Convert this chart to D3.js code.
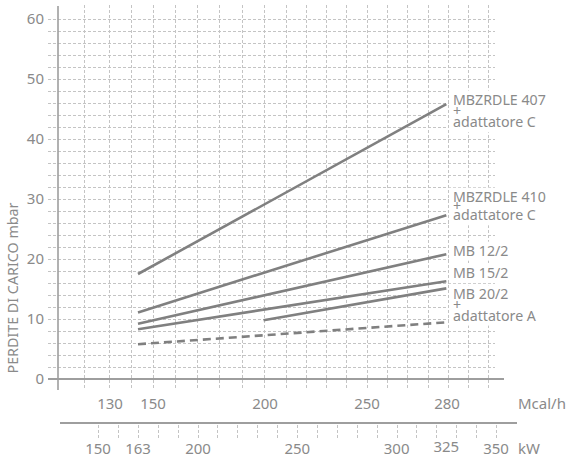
<!DOCTYPE html>
<html><head><meta charset="utf-8">
<script src="https://cdn.jsdelivr.net/npm/d3@7"></script>
<style>
html,body{margin:0;padding:0;background:#fff;}
svg{display:block;}
text{font-family:"Noto Sans",sans-serif;fill:#8a8a8a;}
</style></head>
<body>
<script>
// ---- data ----
const yTicks = [0, 10, 20, 30, 40, 50, 60];
const mcalTicks = [130, 150, 200, 250, 280];
const kwTicks = [150, 163, 200, 250, 300, 325, 350];
const seriesNames = ["MBZRDLE 407 + adattatore C", "MBZRDLE 410 + adattatore C", "MB 12/2", "MB 15/2", "MB 20/2", "MB 20/2 + adattatore A"];
const seriesStartKW = [163, 163, 163, 163, 233, 163];
const seriesEndKW = [325, 325, 325, 325, 325, 325];
const seriesStartMbar = [17.5, 11.1, 9.2, 8.3, 9.8, 5.8];
const seriesEndMbar = [45.8, 27.3, 20.8, 16.3, 15.1, 9.45];
const labelTexts = [
  ["MBZRDLE 407", "+", "adattatore C"],
  ["MBZRDLE 410", "+", "adattatore C"],
  ["MB 12/2"],
  ["MB 15/2"],
  ["MB 20/2", "+", "adattatore A"]
];
const labelAnchorMbar = [45.75, 29.55, 20.55, 16.8, 13.3];
const yTitle = "PERDITE DI CARICO mbar";
const mcalUnit = "Mcal/h";
const kwUnit = "kW";

// ---- layout ----
const W = 572, H = 461;
const svg = d3.select("body").append("svg").attr("width", W).attr("height", H);

const y = d3.scaleLinear().domain([0, 60]).range([379, 19]);
const x = d3.scaleLinear().domain([150, 163, 200, 350]).range([98, 138, 198, 496]);
const kwTickScale = d3.scaleLinear().domain([150, 350]).range([x(150), x(350)]);
const xMcal = d3.scaleLinear().domain([130, 150, 200, 250, 280]).range([110, 153, 265, 367, 447]);
const gridX = d3.scaleLinear().domain([0, 1, 9, 19]).range([84.3, 109, 285.7, 488.3]);

const gridColor = "#c4c4c4";
const axisColor = "#9e9e9e";
const lineColor = "#808080";

// grid
const grid = svg.append("g");
grid.selectAll("line.h").data(d3.range(1, 31).map(i => i * 2)).join("line")
  .attr("x1", 48).attr("x2", 495)
  .attr("y1", d => y(d) + 0.5).attr("y2", d => y(d) + 0.5)
  .attr("stroke", gridColor).attr("stroke-width", 1).attr("stroke-dasharray", "3,2");
grid.selectAll("line.v").data(d3.range(20)).join("line")
  .attr("x1", d => Math.round(gridX(d)) + 0.5).attr("x2", d => Math.round(gridX(d)) + 0.5)
  .attr("y1", 5).attr("y2", 390)
  .attr("stroke", gridColor).attr("stroke-width", 1).attr("stroke-dasharray", "3,2");

// axes
svg.append("line").attr("x1", 58).attr("x2", 58).attr("y1", 6).attr("y2", 390)
  .attr("stroke", axisColor).attr("stroke-width", 1.6);
svg.append("line").attr("x1", 48).attr("x2", 504).attr("y1", y(0)).attr("y2", y(0))
  .attr("stroke", axisColor).attr("stroke-width", 2);
svg.append("line").attr("x1", 60).attr("x2", 517).attr("y1", 423).attr("y2", 423)
  .attr("stroke", axisColor).attr("stroke-width", 2);

// y tick labels
svg.selectAll("text.yt").data(yTicks).join("text")
  .attr("x", 44).attr("y", d => y(d) + 5)
  .attr("text-anchor", "end").attr("font-size", 15).text(d => d);

// y title
svg.append("text").attr("transform", "translate(18,288) rotate(-90)")
  .attr("text-anchor", "middle").attr("font-size", 14.3).text(yTitle);

// Mcal/h labels
svg.selectAll("text.mc").data(mcalTicks).join("text")
  .attr("x", d => xMcal(d)).attr("y", 409)
  .attr("text-anchor", "middle").attr("font-size", 15).text(d => d);
svg.append("text").attr("x", 518).attr("y", 409).attr("font-size", 15).text(mcalUnit);

// kW minor ticks
svg.selectAll("line.kt").data(d3.range(150, 351, 10)).join("line")
  .attr("x1", d => Math.round(kwTickScale(d)) + 0.5).attr("x2", d => Math.round(kwTickScale(d)) + 0.5)
  .attr("y1", 425).attr("y2", 438)
  .attr("stroke", gridColor).attr("stroke-width", 1).attr("stroke-dasharray", "3,2");
svg.selectAll("text.kw").data(kwTicks).join("text")
  .attr("x", d => x(d)).attr("y", d => d === 325 ? 452 : 454)
  .attr("text-anchor", "middle").attr("font-size", 15).text(d => d);
svg.append("text").attr("x", 518).attr("y", 454).attr("font-size", 15).text(kwUnit);

// series lines
const dashed = new Set(["MB 20/2 + adattatore A"]);
const series = seriesNames.map((n, i) => ({
  name: n,
  pts: [[seriesStartKW[i], seriesStartMbar[i]], [seriesEndKW[i], seriesEndMbar[i]]]
}));
const lineGen = d3.line().x(d => x(d[0])).y(d => y(d[1]));
svg.selectAll("path.s").data(series).join("path")
  .attr("d", d => lineGen(d.pts))
  .attr("fill", "none").attr("stroke", lineColor).attr("stroke-width", 2.6)
  .attr("stroke-dasharray", d => dashed.has(d.name) ? "8,5" : null);

// labels with white background
const gaps = [[11.4, 11.4], [9.3, 9.3], [], [], [10.7, 10.7]];
const lblG = svg.append("g");
labelTexts.forEach((lines, i) => {
  const g = lblG.append("g");
  const by = y(labelAnchorMbar[i]);
  let cy = by;
  const rect = g.append("rect").attr("fill", "#fff");
  const t = g.append("text").attr("font-size", 14.2);
  lines.forEach((ln, j) => {
    if (j > 0) cy += gaps[i][j - 1];
    t.append("tspan").attr("x", 453).attr("y", cy).text(ln);
  });
  rect.attr("x", 449).attr("width", W - 449)
    .attr("y", by - 14).attr("height", cy - by + 19);
});
</script>
</body></html>
